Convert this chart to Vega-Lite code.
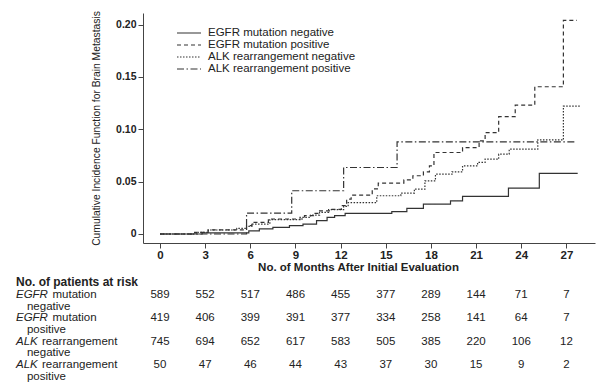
{
  "$schema": "https://vega.github.io/schema/vega-lite/v6.json",
  "width": 452,
  "height": 230,
  "autosize": {"type": "none"},
  "padding": {"left": 143, "top": 13, "right": 2, "bottom": 140},
  "background": "white",
  "config": {
    "view": {"stroke": null},
    "font": "Liberation Sans",
    "axis": {"domainColor": "#444", "tickColor": "#444", "labelColor": "#222", "titleColor": "#222", "grid": false}
  },
  "datasets": {
    "curves": [
      {"group": "EGFR mutation negative", "month": 0, "cif": 0},
      {"group": "EGFR mutation negative", "month": 2.8, "cif": 0.001},
      {"group": "EGFR mutation negative", "month": 5.9, "cif": 0.003},
      {"group": "EGFR mutation negative", "month": 6.6, "cif": 0.0048},
      {"group": "EGFR mutation negative", "month": 7.5, "cif": 0.0063},
      {"group": "EGFR mutation negative", "month": 8.6, "cif": 0.0079},
      {"group": "EGFR mutation negative", "month": 9.5, "cif": 0.0095},
      {"group": "EGFR mutation negative", "month": 10.4, "cif": 0.0127},
      {"group": "EGFR mutation negative", "month": 11.1, "cif": 0.0159},
      {"group": "EGFR mutation negative", "month": 11.6, "cif": 0.0175},
      {"group": "EGFR mutation negative", "month": 12.3, "cif": 0.0197},
      {"group": "EGFR mutation negative", "month": 15.4, "cif": 0.0213},
      {"group": "EGFR mutation negative", "month": 16.4, "cif": 0.0244},
      {"group": "EGFR mutation negative", "month": 17.5, "cif": 0.0286},
      {"group": "EGFR mutation negative", "month": 19.3, "cif": 0.0317},
      {"group": "EGFR mutation negative", "month": 20.1, "cif": 0.0359},
      {"group": "EGFR mutation negative", "month": 23.15, "cif": 0.0438},
      {"group": "EGFR mutation negative", "month": 25.2, "cif": 0.0578},
      {"group": "EGFR mutation negative", "month": 27.75, "cif": 0.0578},
      {"group": "EGFR mutation positive", "month": 0, "cif": 0},
      {"group": "EGFR mutation positive", "month": 2.3, "cif": 0.0016},
      {"group": "EGFR mutation positive", "month": 3.2, "cif": 0.004},
      {"group": "EGFR mutation positive", "month": 5.75, "cif": 0.0079},
      {"group": "EGFR mutation positive", "month": 6.1, "cif": 0.011},
      {"group": "EGFR mutation positive", "month": 7.2, "cif": 0.0143},
      {"group": "EGFR mutation positive", "month": 9.6, "cif": 0.0175},
      {"group": "EGFR mutation positive", "month": 10.2, "cif": 0.0196},
      {"group": "EGFR mutation positive", "month": 10.6, "cif": 0.022},
      {"group": "EGFR mutation positive", "month": 11.3, "cif": 0.0235},
      {"group": "EGFR mutation positive", "month": 12.05, "cif": 0.027},
      {"group": "EGFR mutation positive", "month": 12.4, "cif": 0.0333},
      {"group": "EGFR mutation positive", "month": 12.7, "cif": 0.0371},
      {"group": "EGFR mutation positive", "month": 14.1, "cif": 0.043},
      {"group": "EGFR mutation positive", "month": 14.5, "cif": 0.0486},
      {"group": "EGFR mutation positive", "month": 16.2, "cif": 0.0517},
      {"group": "EGFR mutation positive", "month": 16.8, "cif": 0.0556},
      {"group": "EGFR mutation positive", "month": 17.5, "cif": 0.0594},
      {"group": "EGFR mutation positive", "month": 17.9, "cif": 0.065},
      {"group": "EGFR mutation positive", "month": 18.2, "cif": 0.0778},
      {"group": "EGFR mutation positive", "month": 20.1, "cif": 0.0825},
      {"group": "EGFR mutation positive", "month": 21.2, "cif": 0.0889},
      {"group": "EGFR mutation positive", "month": 21.6, "cif": 0.0968},
      {"group": "EGFR mutation positive", "month": 22.5, "cif": 0.112},
      {"group": "EGFR mutation positive", "month": 23.6, "cif": 0.123},
      {"group": "EGFR mutation positive", "month": 24.9, "cif": 0.1406},
      {"group": "EGFR mutation positive", "month": 26.8, "cif": 0.204},
      {"group": "EGFR mutation positive", "month": 27.7, "cif": 0.204},
      {"group": "ALK rearrangement negative", "month": 0, "cif": 0},
      {"group": "ALK rearrangement negative", "month": 2.4, "cif": 0.0016},
      {"group": "ALK rearrangement negative", "month": 3.2, "cif": 0.0038},
      {"group": "ALK rearrangement negative", "month": 5.1, "cif": 0.0054},
      {"group": "ALK rearrangement negative", "month": 5.75, "cif": 0.0073},
      {"group": "ALK rearrangement negative", "month": 6.1, "cif": 0.0095},
      {"group": "ALK rearrangement negative", "month": 7.3, "cif": 0.0137},
      {"group": "ALK rearrangement negative", "month": 9.3, "cif": 0.0159},
      {"group": "ALK rearrangement negative", "month": 10.0, "cif": 0.018},
      {"group": "ALK rearrangement negative", "month": 10.6, "cif": 0.0206},
      {"group": "ALK rearrangement negative", "month": 11.2, "cif": 0.0232},
      {"group": "ALK rearrangement negative", "month": 12.2, "cif": 0.0263},
      {"group": "ALK rearrangement negative", "month": 12.5, "cif": 0.03},
      {"group": "ALK rearrangement negative", "month": 14.4, "cif": 0.0365},
      {"group": "ALK rearrangement negative", "month": 16.0, "cif": 0.039},
      {"group": "ALK rearrangement negative", "month": 16.9, "cif": 0.0429},
      {"group": "ALK rearrangement negative", "month": 17.6, "cif": 0.0508},
      {"group": "ALK rearrangement negative", "month": 18.3, "cif": 0.0571},
      {"group": "ALK rearrangement negative", "month": 19.4, "cif": 0.0594},
      {"group": "ALK rearrangement negative", "month": 20.1, "cif": 0.065},
      {"group": "ALK rearrangement negative", "month": 21.1, "cif": 0.0683},
      {"group": "ALK rearrangement negative", "month": 21.6, "cif": 0.0714},
      {"group": "ALK rearrangement negative", "month": 22.5, "cif": 0.0762},
      {"group": "ALK rearrangement negative", "month": 23.2, "cif": 0.081},
      {"group": "ALK rearrangement negative", "month": 25.1, "cif": 0.0898},
      {"group": "ALK rearrangement negative", "month": 26.8, "cif": 0.122},
      {"group": "ALK rearrangement negative", "month": 27.9, "cif": 0.122},
      {"group": "ALK rearrangement positive", "month": 0, "cif": 0},
      {"group": "ALK rearrangement positive", "month": 5.75, "cif": 0.02},
      {"group": "ALK rearrangement positive", "month": 8.75, "cif": 0.0413},
      {"group": "ALK rearrangement positive", "month": 12.2, "cif": 0.0635},
      {"group": "ALK rearrangement positive", "month": 15.75, "cif": 0.088},
      {"group": "ALK rearrangement positive", "month": 27.65, "cif": 0.088}
    ],
    "risk": [
      {"group": "EGFR mutation negative", "month": 0, "n": 589},
      {"group": "EGFR mutation negative", "month": 3, "n": 552},
      {"group": "EGFR mutation negative", "month": 6, "n": 517},
      {"group": "EGFR mutation negative", "month": 9, "n": 486},
      {"group": "EGFR mutation negative", "month": 12, "n": 455},
      {"group": "EGFR mutation negative", "month": 15, "n": 377},
      {"group": "EGFR mutation negative", "month": 18, "n": 289},
      {"group": "EGFR mutation negative", "month": 21, "n": 144},
      {"group": "EGFR mutation negative", "month": 24, "n": 71},
      {"group": "EGFR mutation negative", "month": 27, "n": 7},
      {"group": "EGFR mutation positive", "month": 0, "n": 419},
      {"group": "EGFR mutation positive", "month": 3, "n": 406},
      {"group": "EGFR mutation positive", "month": 6, "n": 399},
      {"group": "EGFR mutation positive", "month": 9, "n": 391},
      {"group": "EGFR mutation positive", "month": 12, "n": 377},
      {"group": "EGFR mutation positive", "month": 15, "n": 334},
      {"group": "EGFR mutation positive", "month": 18, "n": 258},
      {"group": "EGFR mutation positive", "month": 21, "n": 141},
      {"group": "EGFR mutation positive", "month": 24, "n": 64},
      {"group": "EGFR mutation positive", "month": 27, "n": 7},
      {"group": "ALK rearrangement negative", "month": 0, "n": 745},
      {"group": "ALK rearrangement negative", "month": 3, "n": 694},
      {"group": "ALK rearrangement negative", "month": 6, "n": 652},
      {"group": "ALK rearrangement negative", "month": 9, "n": 617},
      {"group": "ALK rearrangement negative", "month": 12, "n": 583},
      {"group": "ALK rearrangement negative", "month": 15, "n": 505},
      {"group": "ALK rearrangement negative", "month": 18, "n": 385},
      {"group": "ALK rearrangement negative", "month": 21, "n": 220},
      {"group": "ALK rearrangement negative", "month": 24, "n": 106},
      {"group": "ALK rearrangement negative", "month": 27, "n": 12},
      {"group": "ALK rearrangement positive", "month": 0, "n": 50},
      {"group": "ALK rearrangement positive", "month": 3, "n": 47},
      {"group": "ALK rearrangement positive", "month": 6, "n": 46},
      {"group": "ALK rearrangement positive", "month": 9, "n": 44},
      {"group": "ALK rearrangement positive", "month": 12, "n": 43},
      {"group": "ALK rearrangement positive", "month": 15, "n": 37},
      {"group": "ALK rearrangement positive", "month": 18, "n": 30},
      {"group": "ALK rearrangement positive", "month": 21, "n": 15},
      {"group": "ALK rearrangement positive", "month": 24, "n": 9},
      {"group": "ALK rearrangement positive", "month": 27, "n": 2}
    ],
    "labels": [
      {"group": "EGFR mutation negative", "prefix": "EGFR", "rest": "mutation", "sub": "negative"},
      {"group": "EGFR mutation positive", "prefix": "EGFR", "rest": "mutation", "sub": "positive"},
      {"group": "ALK rearrangement negative", "prefix": "ALK", "rest": "rearrangement", "sub": "negative"},
      {"group": "ALK rearrangement positive", "prefix": "ALK", "rest": "rearrangement", "sub": "positive"}
    ]
  },
  "resolve": {"scale": {"y": "independent"}},
  "layer": [
    {
      "data": {"name": "curves"},
      "mark": {"type": "line", "interpolate": "step-after", "color": "#333", "strokeWidth": 1.2},
      "encoding": {
        "x": {
          "field": "month", "type": "quantitative",
          "scale": {"domain": [-1.13, 28.9], "nice": false, "zero": false},
          "axis": {
            "values": [0, 3, 6, 9, 12, 15, 18, 21, 24, 27],
            "title": "No. of Months After Initial Evaluation",
            "labelFontWeight": "bold", "labelFontSize": 11.5, "labelPadding": 1, "tickSize": 5,
            "titleFontWeight": "bold", "titleFontSize": 11.5, "titlePadding": 1, "titleX": 215,
            "labelFlush": false
          }
        },
        "y": {
          "field": "cif", "type": "quantitative",
          "scale": {"domain": [-0.0086, 0.211], "nice": false, "zero": false},
          "axis": {
            "values": [0, 0.05, 0.1, 0.15, 0.2],
            "labelExpr": "datum.value === 0 ? '0' : format(datum.value, '.2f')",
            "title": "Cumulative Incidence Function for Brain Metastasis",
            "labelFontWeight": "bold", "labelFontSize": 10.5, "labelPadding": 2, "tickSize": 5,
            "titleFontWeight": "normal", "titleFontSize": 10.3, "titlePadding": 14,
            "labelFlush": false
          }
        },
        "strokeDash": {
          "field": "group", "type": "nominal",
          "scale": {
            "domain": ["EGFR mutation negative", "EGFR mutation positive", "ALK rearrangement negative", "ALK rearrangement positive"],
            "range": [[1, 0], [4, 3], [1.5, 1.5], [7, 2.5, 1.5, 2.5]]
          },
          "legend": {
            "title": null, "orient": "none", "legendX": 33, "legendY": 14,
            "symbolType": "stroke", "symbolSize": 576, "symbolStrokeWidth": 1.2, "symbolStrokeColor": "#333",
            "clipHeight": 12, "rowPadding": 0, "labelOffset": 6, "labelFontSize": 11.5, "labelColor": "#222",
            "padding": 0, "labelLimit": 300
          }
        }
      }
    },
    {
      "data": {"name": "risk"},
      "mark": {"type": "text", "fontSize": 11.5, "color": "#222", "align": "center", "baseline": "middle"},
      "encoding": {
        "x": {"field": "month", "type": "quantitative"},
        "y": {"field": "group", "type": "nominal", "axis": null,
          "scale": {"type": "point", "padding": 0, "domain": ["EGFR mutation negative", "EGFR mutation positive", "ALK rearrangement negative", "ALK rearrangement positive"], "range": [282, 352]}},
        "text": {"field": "n", "type": "quantitative"}
      }
    },
    {
      "data": {"name": "labels"},
      "mark": {"type": "text", "fontSize": 11.5, "color": "#222", "align": "left", "baseline": "middle", "fontStyle": "italic"},
      "encoding": {
        "x": {"datum": -9.57},
        "y": {"field": "group", "type": "nominal", "axis": null,
          "scale": {"type": "point", "padding": 0, "domain": ["EGFR mutation negative", "EGFR mutation positive", "ALK rearrangement negative", "ALK rearrangement positive"], "range": [282, 352]}},
        "text": {"field": "prefix"}
      }
    },
    {
      "data": {"name": "labels"},
      "transform": [{"filter": "datum.prefix === 'EGFR'"}],
      "mark": {"type": "text", "fontSize": 11.5, "color": "#222", "align": "left", "baseline": "middle", "dx": 36.5},
      "encoding": {
        "x": {"datum": -9.57},
        "y": {"field": "group", "type": "nominal", "axis": null,
          "scale": {"type": "point", "padding": 0, "domain": ["EGFR mutation negative", "EGFR mutation positive", "ALK rearrangement negative", "ALK rearrangement positive"], "range": [282, 352]}},
        "text": {"field": "rest"}
      }
    },
    {
      "data": {"name": "labels"},
      "transform": [{"filter": "datum.prefix === 'ALK'"}],
      "mark": {"type": "text", "fontSize": 11.5, "color": "#222", "align": "left", "baseline": "middle", "dx": 26},
      "encoding": {
        "x": {"datum": -9.57},
        "y": {"field": "group", "type": "nominal", "axis": null,
          "scale": {"type": "point", "padding": 0, "domain": ["EGFR mutation negative", "EGFR mutation positive", "ALK rearrangement negative", "ALK rearrangement positive"], "range": [282, 352]}},
        "text": {"field": "rest"}
      }
    },
    {
      "data": {"name": "labels"},
      "mark": {"type": "text", "fontSize": 11.5, "color": "#222", "align": "left", "baseline": "middle", "dx": 11, "dy": 11.8},
      "encoding": {
        "x": {"datum": -9.57},
        "y": {"field": "group", "type": "nominal", "axis": null,
          "scale": {"type": "point", "padding": 0, "domain": ["EGFR mutation negative", "EGFR mutation positive", "ALK rearrangement negative", "ALK rearrangement positive"], "range": [282, 352]}},
        "text": {"field": "sub"}
      }
    },
    {
      "data": {"values": [{"title": "No. of patients at risk"}]},
      "mark": {"type": "text", "fontSize": 12, "fontWeight": "bold", "color": "#222", "align": "left", "baseline": "middle", "dy": -13},
      "encoding": {
        "x": {"datum": -9.57},
        "y": {"datum": "EGFR mutation negative", "type": "nominal", "axis": null,
          "scale": {"type": "point", "padding": 0, "domain": ["EGFR mutation negative", "EGFR mutation positive", "ALK rearrangement negative", "ALK rearrangement positive"], "range": [282, 352]}},
        "text": {"field": "title"}
      }
    }
  ]
}
